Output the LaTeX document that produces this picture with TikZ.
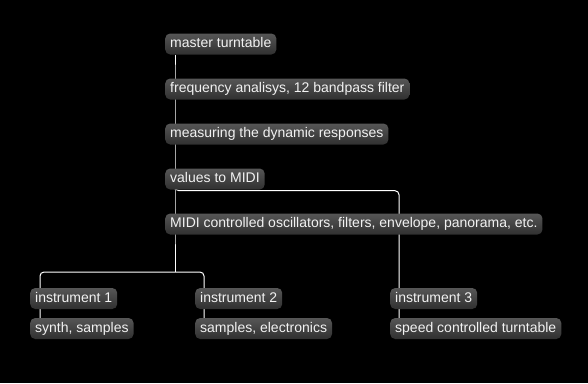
\documentclass[tikz,border=0pt]{standalone}
\usepackage{fontspec}
\setmainfont{Liberation Sans}
\pgfdeclarelayer{back}
\pgfdeclarelayer{lines}
\pgfsetlayers{back,lines,main}
\definecolor{boxtop}{HTML}{565656}
\definecolor{boxbot}{HTML}{303030}
\definecolor{txt}{HTML}{F2F2F2}
\tikzset{
  box/.style={anchor=west, rounded corners=5pt, top color=boxtop, bottom color=boxbot,
    text=txt, font=\fontsize{14}{16}\selectfont, inner xsep=5pt, inner ysep=0pt,
    minimum height=21pt, text height=10pt, text depth=3pt},
  wire/.style={draw=white, line width=1pt, rounded corners=4pt}
}
\begin{document}
\begin{tikzpicture}[x=1pt,y=-1pt]
\begin{pgfonlayer}{back}
\fill[black] (0,0) rectangle (588,383);
\end{pgfonlayer}
\useasboundingbox (0,0) rectangle (588,383);
\node[box] (m1) at (165,44) {master turntable};
\node[box] (m2) at (165,89) {frequency analisys, 12 bandpass filter};
\node[box] (m3) at (165,134) {measuring the dynamic responses};
\node[box] (m4) at (165,179) {values to MIDI};
\node[box] (m5) at (165,224) {MIDI controlled oscillators, filters, envelope, panorama, etc.};
\node[box] (i1) at (30,298.5) {instrument 1};
\node[box] (s1) at (30,328.5) {synth, samples};
\node[box] (i2) at (195,298.5) {instrument 2};
\node[box] (s2) at (195,328.5) {samples, electronics};
\node[box] (i3) at (390,298.5) {instrument 3};
\node[box] (s3) at (390,328.5) {speed controlled turntable};
\coordinate (tee) at (175,272);
\begin{pgfonlayer}{lines}
\draw[wire] ([xshift=10pt]m1.south west) -- ([xshift=10pt]m2.north west) -- ([xshift=10pt]m3.north west) -- ([xshift=10pt]m4.north west) -- ([xshift=10pt]m5.north west) -- (tee);
\draw[wire] ([xshift=10pt]s1.north west) -- ([xshift=10pt]i1.north west) |- (tee) -| ([xshift=9pt]i2.north west) -- ([xshift=9pt]s2.north west);
\draw[wire] ([xshift=10pt]m4.south west) -- ([xshift=10pt,yshift=-1pt]m4.south west) -| ([xshift=9pt]i3.north west) -- ([xshift=9pt]s3.north west);
\end{pgfonlayer}
\end{tikzpicture}
\end{document}
